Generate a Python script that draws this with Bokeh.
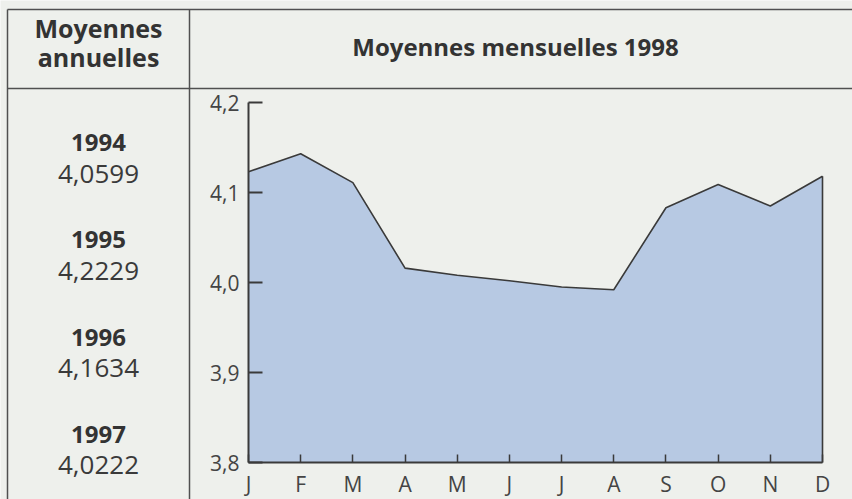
from bokeh.plotting import figure
from bokeh.models import Range1d, LinearAxis, FixedTicker, CustomJSTickFormatter, ColumnDataSource
from bokeh.core.properties import value
from bokeh.embed import file_html
from bokeh.resources import INLINE

# ---------------- data ----------------
months = ["J", "F", "M", "A", "M", "J", "J", "A", "S", "O", "N", "D"]
monthly_1998 = [4.123, 4.143, 4.111, 4.016, 4.008, 4.002, 3.995, 3.992, 4.083, 4.109, 4.085, 4.118]
y_ticks = [3.8, 3.9, 4.0, 4.1, 4.2]
years = ["1994", "1995", "1996", "1997"]
annual_means = [4.0599, 4.2229, 4.1634, 4.0222]
header_left = ["Moyennes", "annuelles"]
header_right = "Moyennes mensuelles 1998"

# ---------------- style / layout ----------------
W, H = 852, 499
BG = "#eef0ec"
FILL = "#b7c9e3"
LINE = "#3a3a3a"
RULE = "#505050"
TXT = "#333333"
FONT = "Open Sans"

# chart frame placement in canvas pixels (y measured from top)
X0_PX, X1_PX = 248.0, 822.0      # J .. D
YT_PX, YB_PX = 102.0, 462.0      # 4.2 .. 3.8
v_lo, v_hi = y_ticks[0], y_ticks[-1]
px_per_m = (X1_PX - X0_PX) / (len(months) - 1)
px_per_v = (YB_PX - YT_PX) / (v_hi - v_lo)

p = figure(width=W, height=H, output_backend="svg", toolbar_location=None,
           x_range=Range1d(0, W), y_range=Range1d(H, 0),
           x_axis_location=None, y_axis_location=None, min_border=0,
           background_fill_color=BG, border_fill_color=BG, outline_line_color=None)
p.grid.visible = False

p.extra_x_ranges = {"m": Range1d(-X0_PX / px_per_m, (W - X0_PX) / px_per_m)}
p.extra_y_ranges = {"v": Range1d(v_lo - (H - YB_PX) / px_per_v, v_hi + YT_PX / px_per_v)}

# ---------------- table rules ----------------
COL_X = 189
LEFT_X = 7
p.segment(x0=[LEFT_X, LEFT_X, COL_X, LEFT_X], y0=[9, 88, 9, 9],
          x1=[W, W, COL_X, LEFT_X], y1=[9, 88, H, H],
          line_color=RULE, line_width=1.5)

# ---------------- header texts ----------------
COL_CX = 98
p.text(x=[COL_CX, COL_CX], y=[27, 56], text=header_left, text_font=value(FONT),
       text_font_style="bold", text_font_size="25px", text_align="center",
       text_baseline="alphabetic", text_color=TXT)
p.text(x=[515], y=[46], text=[header_right], text_font=value(FONT),
       text_font_style="bold", text_font_size="24px", text_align="center",
       text_baseline="alphabetic", text_color=TXT)

# ---------------- annual means ----------------
step = 97.3
yr_y = [142 + i * step for i in range(len(years))]
val_y = [y + 31 for y in yr_y]
p.text(x=[COL_CX] * len(years), y=yr_y, text=years, text_font=value(FONT),
       text_font_style="bold", text_font_size="24px", text_align="center",
       text_baseline="alphabetic", text_color=TXT)
p.text(x=[COL_CX] * len(years), y=val_y,
       text=[f"{v:.4f}".replace(".", ",") for v in annual_means], text_font=value(FONT),
       text_font_size="26px", text_align="center", text_baseline="alphabetic",
       text_color="#3a3a3a")

# ---------------- area chart ----------------
src = ColumnDataSource(dict(m=list(range(len(months))), v=monthly_1998,
                            base=[v_lo] * len(months)))
p.varea(x="m", y1="base", y2="v", source=src, x_range_name="m", y_range_name="v",
        fill_color=FILL, fill_alpha=1.0)
p.line(x="m", y="v", source=src, x_range_name="m", y_range_name="v",
       line_color=LINE, line_width=1.6)
last = len(months) - 1
p.segment(x0=[last], y0=[v_lo], x1=[last], y1=[monthly_1998[-1]],
          x_range_name="m", y_range_name="v", line_color=LINE, line_width=1.6)

# ---------------- axes ----------------
yaxis = LinearAxis(x_range_name="m", y_range_name="v", fixed_location=0,
                   bounds=(v_lo, v_hi), ticker=FixedTicker(ticks=y_ticks),
                   formatter=CustomJSTickFormatter(code="return tick.toFixed(1).replace('.', ',')"),
                   major_tick_in=14, major_tick_out=0, minor_tick_line_color=None,
                   axis_line_width=2, axis_line_color=LINE,
                   major_tick_line_width=2, major_tick_line_color=LINE,
                   major_label_standoff=9, major_label_text_font=FONT,
                   major_label_text_font_size="21px", major_label_text_color="#444444")
p.add_layout(yaxis, "left")

xaxis = LinearAxis(x_range_name="m", y_range_name="v", fixed_location=v_lo,
                   bounds=(0, last), ticker=FixedTicker(ticks=list(range(len(months)))),
                   formatter=CustomJSTickFormatter(args=dict(labels=months),
                                                   code="return labels[Math.round(tick)] || ''"),
                   major_tick_in=8, major_tick_out=0, minor_tick_line_color=None,
                   axis_line_width=2, axis_line_color=LINE,
                   major_tick_line_width=1.5, major_tick_line_color=LINE,
                   major_label_standoff=7, major_label_text_font=FONT,
                   major_label_text_font_size="21px", major_label_text_color="#444444")
p.add_layout(xaxis, "below")

open("out.html", "w").write(file_html(p, INLINE))
